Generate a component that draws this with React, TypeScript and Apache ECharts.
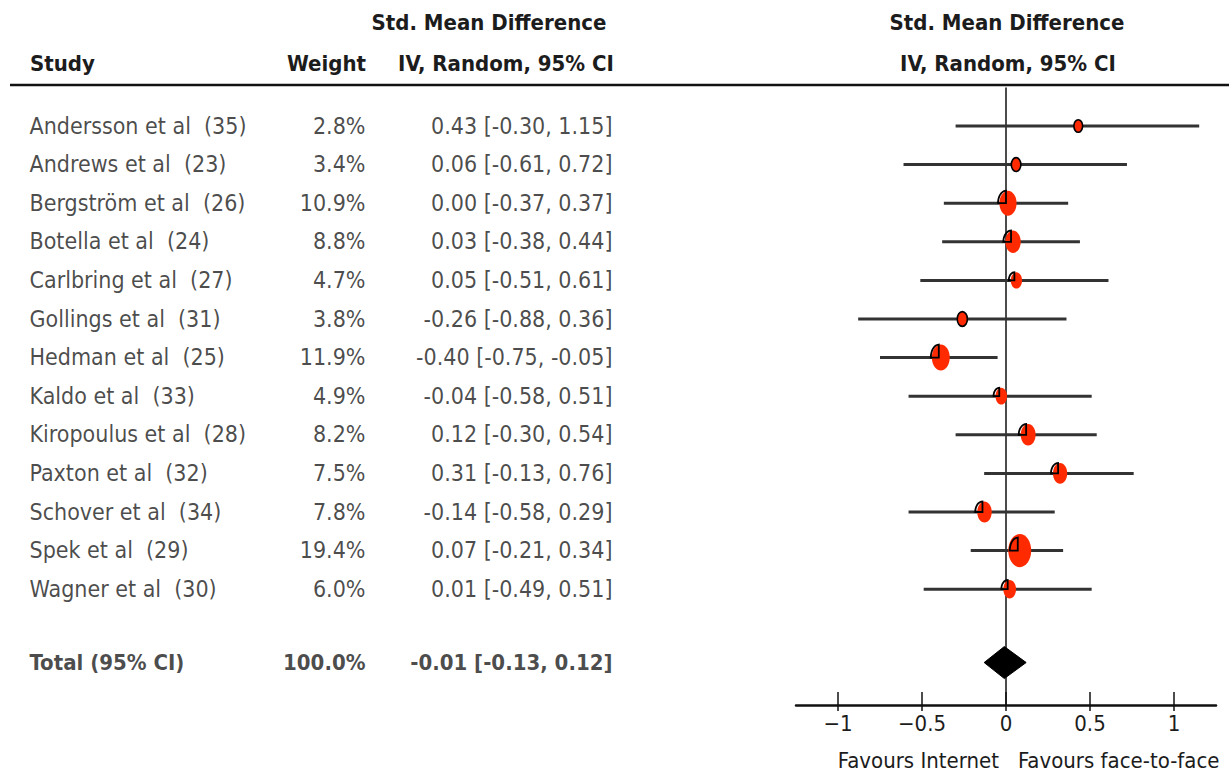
import React, { useEffect, useRef } from "react";
import * as echarts from "echarts";

const studies = [
  "Andersson et al  (35)",
  "Andrews et al  (23)",
  "Bergström et al  (26)",
  "Botella et al  (24)",
  "Carlbring et al  (27)",
  "Gollings et al  (31)",
  "Hedman et al  (25)",
  "Kaldo et al  (33)",
  "Kiropoulus et al  (28)",
  "Paxton et al  (32)",
  "Schover et al  (34)",
  "Spek et al  (29)",
  "Wagner et al  (30)",
];
const weights = [2.8, 3.4, 10.9, 8.8, 4.7, 3.8, 11.9, 4.9, 8.2, 7.5, 7.8, 19.4, 6.0];
const smd = [0.43, 0.06, 0.0, 0.03, 0.05, -0.26, -0.4, -0.04, 0.12, 0.31, -0.14, 0.07, 0.01];
const ciLow = [-0.3, -0.61, -0.37, -0.38, -0.51, -0.88, -0.75, -0.58, -0.3, -0.13, -0.58, -0.21, -0.49];
const ciHigh = [1.15, 0.72, 0.37, 0.44, 0.61, 0.36, -0.05, 0.51, 0.54, 0.76, 0.29, 0.34, 0.51];
const totalLabel = "Total (95% CI)";
const totalWeight = 100.0;
const totalEst = -0.01;
const totalLow = -0.13;
const totalHigh = 0.12;
const tickValues = [-1, -0.5, 0, 0.5, 1];
const favourLeft = "Favours Internet";
const favourRight = "Favours face-to-face";

// layout constants
const TOTAL_ROW = 13.9;
const FONT = "'Liberation Sans Narrow', 'DejaVu Sans Condensed', 'Open Sans', sans-serif";
const FS = 23;
const HFS = 22;
const TXT = "#1c1c1c";
const RED = "#ff2a00";
const COL_STUDY = 30;
const COL_WEIGHT = 366;
const COL_CI = 613;

const fmt = (v: number) => v.toFixed(2);
const ciText = (e: number, l: number, h: number) => `${fmt(e)} [${fmt(l)}, ${fmt(h)}]`;

export default function App() {
  const ref = useRef<HTMLDivElement>(null);
  useEffect(() => {
    if (!ref.current) return;
    const chart = echarts.init(ref.current, undefined, { renderer: "svg" });

    const gridTop = 87.4;
    const gridHeight = 617.6;

    const textSeries = (data: any[], align: string, bold: boolean) => ({
      type: "scatter",
      xAxisIndex: 2,
      yAxisIndex: 1,
      symbolSize: 1,
      itemStyle: { color: "transparent" },
      silent: true,
      data,
      label: {
        show: true,
        position: [0, 0],
        align,
        verticalAlign: "middle",
        fontFamily: FONT,
        fontSize: bold ? HFS : FS,
        fontWeight: bold ? "bold" : "normal",
        color: TXT,
        formatter: (p: any) => p.data.name,
      },
    });

    const hdr = (text: string, x: number, y: number, align: string) => ({
      type: "text",
      x,
      y,
      style: {
        text,
        font: `bold ${HFS}px ${FONT}`,
        fill: TXT,
        textAlign: align,
        textVerticalAlign: "middle",
      },
    });

    const option: any = {
      animation: false,
      backgroundColor: "#ffffff",
      grid: [
        { left: 796, width: 420, top: gridTop, height: gridHeight },
        { left: 0, width: 620, top: gridTop, height: gridHeight },
      ],
      xAxis: [
        {
          type: "value",
          gridIndex: 0,
          min: -1.25,
          max: 1.25,
          position: "bottom",
          splitLine: { show: false },
          axisLine: { show: true, onZero: false, lineStyle: { color: "#111", width: 2.5 } },
          axisTick: {
            show: true,
            inside: true,
            length: 13,
            customValues: tickValues,
            lineStyle: { color: "#111", width: 1.5 },
          },
          axisLabel: {
            show: true,
            customValues: tickValues,
            margin: 7,
            fontFamily: FONT,
            fontSize: FS - 1,
            color: TXT,
            formatter: (v: number) => (v < 0 ? "\u2212" + Math.abs(v) : String(v)),
          },
        },
        {
          type: "value",
          gridIndex: 0,
          min: -1.25,
          max: 1.25,
          position: "bottom",
          offset: 0,
          splitLine: { show: false },
          axisLine: { show: false, onZero: false },
          axisTick: {
            show: true,
            inside: false,
            length: 6,
            customValues: tickValues,
            lineStyle: { color: "#111", width: 1.5 },
          },
          axisLabel: { show: false },
        },
        {
          type: "value",
          gridIndex: 1,
          min: 0,
          max: 620,
          show: false,
        },
      ],
      yAxis: [
        { type: "value", gridIndex: 0, min: -1, max: 15, inverse: true, show: false },
        { type: "value", gridIndex: 1, min: -1, max: 15, inverse: true, show: false },
      ],
      graphic: [
        {
          type: "line",
          shape: { x1: 10, y1: 85, x2: 1229, y2: 85 },
          style: { stroke: "#111", lineWidth: 2.5 },
          z: 10,
        },
        hdr("Std. Mean Difference", 489, 22, "center"),
        hdr("Study", 30, 63, "left"),
        hdr("Weight", 366, 63, "right"),
        hdr("IV, Random, 95% CI", 506, 63, "center"),
        hdr("Std. Mean Difference", 1007, 22, "center"),
        hdr("IV, Random, 95% CI", 1008, 63, "center"),
        {
          type: "text",
          x: 999,
          y: 760,
          style: { text: favourLeft, font: `${FS - 1}px ${FONT}`, fill: TXT, textAlign: "right", textVerticalAlign: "middle" },
        },
        {
          type: "text",
          x: 1018,
          y: 760,
          style: { text: favourRight, font: `${FS - 1}px ${FONT}`, fill: TXT, textAlign: "left", textVerticalAlign: "middle" },
        },
      ],
      series: [
        {
          type: "custom",
          xAxisIndex: 0,
          yAxisIndex: 0,
          silent: true,
          clip: false,
          data: studies.map((_, i) => [i, smd[i], ciLow[i], ciHigh[i], weights[i]]),
          renderItem: (params: any, api: any) => {
            const row = api.value(0);
            const est = api.value(1);
            const lo = api.value(2);
            const hi = api.value(3);
            const w = api.value(4);
            const pL = api.coord([lo, row]);
            const pH = api.coord([hi, row]);
            const pE = api.coord([est, row]);
            const rx = Math.sqrt(w) * 2.6;
            const ry = rx * 1.45;
            const cx = pE[0] + (w >= 4 ? 2 : 0);
            const cy = pE[1];
            const children: any[] = [
              {
                type: "line",
                shape: { x1: pL[0], y1: pL[1], x2: pH[0], y2: pH[1] },
                style: { stroke: "#333", lineWidth: 3 },
              },
              {
                type: "ellipse",
                shape: { cx, cy, rx, ry },
                style: { fill: RED, stroke: w < 4 ? "#000" : null, lineWidth: w < 4 ? 1.6 : 0 },
              },
            ];
            if (w >= 4) {
              const pts: number[][] = [];
              const qr = Math.min(rx, 8);
              const qy = Math.min(ry, 13);
              const ax = pE[0];
              for (let k = 0; k <= 10; k++) {
                const t = ((k / 10) * Math.PI) / 2;
                pts.push([ax - qr * Math.cos(t), cy - qy * Math.sin(t)]);
              }
              pts.push([ax, cy]);
              children.push({
                type: "polygon",
                shape: { points: pts },
                style: { fill: null, stroke: "#000", lineWidth: 1.8 },
              });
            }
            return { type: "group", children };
          },
          markLine: {
            silent: true,
            symbol: "none",
            label: { show: false },
            lineStyle: { color: "#111", width: 1.5, type: "solid" },
            data: [[{ coord: [0, -1] }, { coord: [0, 15] }]],
          },
          z: 5,
        },
        {
          type: "custom",
          xAxisIndex: 0,
          yAxisIndex: 0,
          silent: true,
          clip: false,
          data: [[TOTAL_ROW, totalEst, totalLow, totalHigh]],
          renderItem: (params: any, api: any) => {
            const row = api.value(0);
            const pE = api.coord([api.value(1), row]);
            const pL = api.coord([api.value(2), row]);
            const pH = api.coord([api.value(3), row]);
            const h = 16;
            return {
              type: "polygon",
              shape: {
                points: [
                  [pL[0], pL[1]],
                  [pE[0], pE[1] - h],
                  [pH[0], pH[1]],
                  [pE[0], pE[1] + h],
                ],
              },
              style: { fill: "#000", stroke: "#000", lineWidth: 1 },
            };
          },
          z: 6,
        },
        textSeries(studies.map((s, i) => ({ value: [COL_STUDY, i], name: s })), "left", false),
        textSeries(weights.map((w, i) => ({ value: [COL_WEIGHT, i], name: w.toFixed(1) + "%" })), "right", false),
        textSeries(
          studies.map((_, i) => ({ value: [COL_CI, i], name: ciText(smd[i], ciLow[i], ciHigh[i]) })),
          "right",
          false
        ),
        textSeries([{ value: [COL_STUDY, TOTAL_ROW], name: totalLabel }], "left", true),
        textSeries(
          [
            { value: [COL_WEIGHT, TOTAL_ROW], name: totalWeight.toFixed(1) + "%" },
            { value: [COL_CI, TOTAL_ROW], name: ciText(totalEst, totalLow, totalHigh) },
          ],
          "right",
          true
        ),
      ],
    };
    chart.setOption(option);
    return () => chart.dispose();
  }, []);
  return (
    <div
      ref={ref}
      style={{ position: "absolute", left: 0, top: 0, width: 1229, height: 774 }}
    />
  );
}
